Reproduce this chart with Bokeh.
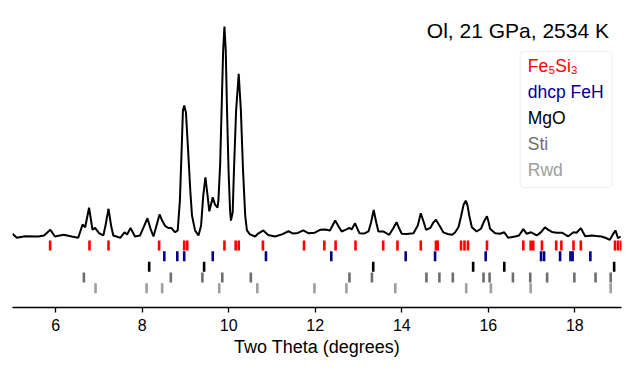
from bokeh.plotting import figure
from bokeh.models import Range1d, FixedTicker, Label, BoxAnnotation
from bokeh.embed import file_html
from bokeh.resources import INLINE

# ---- data ----
two_theta = [5.00, 5.10, 5.29, 5.60, 5.73, 5.875, 5.98, 6.18, 6.37, 6.52, 6.62, 6.68, 6.77, 6.85, 6.91,
             7.00, 7.10, 7.15, 7.22, 7.28, 7.33, 7.49, 7.59, 7.65, 7.73, 7.83, 7.95, 8.04, 8.12, 8.19,
             8.26, 8.33, 8.40, 8.46, 8.53, 8.60, 8.67, 8.76, 8.82, 8.87, 8.91, 8.94, 8.97, 9.01, 9.06,
             9.11, 9.15, 9.22, 9.30, 9.36, 9.41, 9.46, 9.51, 9.55, 9.60, 9.63, 9.68, 9.74, 9.76, 9.80,
             9.84, 9.87, 9.90, 9.93, 9.96, 9.995, 10.03, 10.05, 10.09, 10.12, 10.17, 10.23, 10.28, 10.33,
             10.38, 10.42, 10.49, 10.61, 10.68, 10.80, 10.91, 11.07, 11.23, 11.38, 11.49, 11.60, 11.72,
             11.84, 11.99, 12.11, 12.23, 12.34, 12.46, 12.54, 12.61, 12.71, 12.79, 12.84, 12.92, 13.02,
             13.13, 13.23, 13.29, 13.35, 13.41, 13.46, 13.57, 13.71, 13.80, 13.88, 13.94, 14.00, 14.12,
             14.27, 14.37, 14.44, 14.51, 14.56, 14.66, 14.73, 14.79, 14.87, 14.96, 15.06, 15.16, 15.23,
             15.31, 15.37, 15.43, 15.48, 15.52, 15.56, 15.62, 15.73, 15.83, 15.90, 15.97, 16.01, 16.04,
             16.16, 16.27, 16.37, 16.46, 16.62, 16.71, 16.81, 16.89, 16.99, 17.12, 17.22, 17.31, 17.38,
             17.47, 17.58, 17.70, 17.85, 17.97, 18.04, 18.14, 18.24, 18.39, 18.50, 18.62, 18.72, 18.81,
             18.88, 18.94, 19.00, 19.06]
intensity = [0.013, -0.006, 0.001, 0.000, 0.005, 0.032, 0.000, 0.008, 0.000, -0.006, 0.057, 0.044, 0.137, 0.032, 0.041,
             0.016, 0.005, 0.052, 0.132, 0.052, 0.005, -0.006, 0.020, 0.010, 0.041, 0.000, 0.005, 0.048, 0.087, 0.038,
             0.000, 0.052, 0.105, 0.076, 0.050, 0.041, 0.041, 0.020, 0.029, 0.171, 0.410, 0.600, 0.624, 0.590, 0.410,
             0.220, 0.100, 0.029, 0.005, 0.052, 0.195, 0.282, 0.195, 0.120, 0.162, 0.187, 0.152, 0.138, 0.171, 0.338,
             0.648, 0.886, 1.000, 0.886, 0.600, 0.314, 0.124, 0.076, 0.114, 0.314, 0.600, 0.775, 0.600, 0.314,
             0.100, 0.029, 0.010, 0.000, 0.014, 0.029, 0.007, 0.000, 0.010, 0.025, 0.014, 0.017, 0.029,
             0.016, 0.018, 0.032, 0.033, 0.029, 0.076, 0.048, 0.024, 0.033, 0.041, 0.033, 0.063, 0.016,
             0.014, 0.024, 0.067, 0.127, 0.067, 0.024, 0.024, 0.008, 0.038, 0.068, 0.038, 0.013, 0.012,
             0.016, 0.052, 0.111, 0.067, 0.032, 0.041, 0.067, 0.080, 0.052, 0.020, 0.012, 0.008, 0.019,
             0.044, 0.095, 0.152, 0.171, 0.148, 0.100, 0.044, 0.024, 0.037, 0.071, 0.097, 0.067, 0.037,
             0.016, 0.013, 0.020, -0.006, 0.000, 0.005, 0.035, 0.013, 0.020, 0.005, 0.021, 0.044, 0.033,
             0.022, 0.018, 0.018, 0.001, 0.020, 0.018, 0.040, 0.001, 0.005, 0.002, 0.000, -0.007, -0.016,
             0.010, 0.029, -0.008, 0.000]

fe5si3 = [5.87, 6.78, 7.22, 8.39, 8.97, 9.04, 9.90, 10.16, 10.23, 10.79, 11.74, 12.21, 12.47, 12.93,
          13.57, 13.90, 14.44, 14.79, 14.83, 15.37, 15.45, 15.53, 15.97, 16.81, 16.98, 17.04, 17.24,
          17.57, 17.69, 17.97, 18.14, 18.93, 19.00, 19.07]
feh = [8.51, 8.81, 8.97, 9.63, 10.86, 12.37, 14.09, 14.77, 15.94, 17.22, 17.29, 17.66, 17.90, 17.95, 18.36]
mgo = [8.16, 9.43, 13.34, 15.65, 16.37, 18.91]
sti = [6.65, 8.66, 9.39, 9.85, 10.51, 12.79, 13.31, 14.57, 14.87, 15.18, 15.89, 16.03, 16.57, 16.97,
       17.36, 17.99, 18.48, 18.83]
rwd = [6.92, 8.10, 8.46, 9.78, 10.66, 11.98, 12.72, 13.85, 15.49, 16.06, 16.98, 18.83]

phase_names = ["Fe\u2085Si\u2083", "dhcp FeH", "MgO", "Sti", "Rwd"]
phase_colors = ["#ff0000", "#00008b", "#000000", "#6e6e6e", "#9e9e9e"]
phase_ticks = [fe5si3, feh, mgo, sti, rwd]

x_ticks = [6, 8, 10, 12, 14, 16, 18]
title_text = "Ol, 21 GPa, 2534 K"
x_label = "Two Theta (degrees)"

FONT = "Liberation Sans"

p = figure(width=626, height=365, output_backend="svg", toolbar_location=None,
           x_range=Range1d(5, 19.08), y_range=Range1d(-0.338, 1.0857),
           y_axis_location=None, min_border_left=12, min_border_right=5,
           min_border_top=8, min_border_bottom=58)
p.outline_line_color = None
p.grid.visible = False
p.background_fill_color = "white"

# trace
p.line(two_theta, intensity, line_color="black", line_width=2.0)

# reflection tick rows
row0 = -0.0429
row_step = 0.0508
half = 0.0238
for i, (ticks, col) in enumerate(zip(phase_ticks, phase_colors)):
    yc = row0 - i * row_step
    p.segment(x0=ticks, y0=[yc - half] * len(ticks), x1=ticks, y1=[yc + half] * len(ticks),
              line_color=col, line_width=2.6, line_cap="butt")

# axis styling
ax = p.xaxis[0]
ax.ticker = FixedTicker(ticks=x_ticks)
ax.minor_tick_line_color = None
ax.major_tick_in = 0
ax.major_tick_out = 5
ax.major_tick_line_width = 1.3
ax.axis_line_width = 1.3
ax.major_label_text_font = FONT
ax.major_label_text_font_size = "16px"
ax.major_label_text_color = "black"
ax.major_label_standoff = 6
ax.axis_label = x_label
ax.axis_label_text_font = FONT
ax.axis_label_text_font_size = "18px"
ax.axis_label_text_font_style = "normal"
ax.axis_label_text_color = "black"
ax.axis_label_standoff = 3

# title inside plot
p.add_layout(Label(x=18.79, y=0.982, text=title_text, text_align="right",
                   text_baseline="alphabetic", text_font=FONT, text_font_size="21px",
                   text_color="black"))

# legend box
p.add_layout(BoxAnnotation(left=16.735, right=18.862, bottom=0.2333, top=0.881,
                           fill_color="white", fill_alpha=0.85, line_color="#cccccc",
                           line_width=1.2, border_radius=4, level="overlay"))
leg_y0 = 0.8128
leg_step = 0.1243
for i, (name, col) in enumerate(zip(phase_names, phase_colors)):
    p.add_layout(Label(x=16.913, y=leg_y0 - i * leg_step, text=name, text_align="left",
                       text_baseline="alphabetic", text_font=FONT, text_font_size="17.5px",
                       text_color=col, level="overlay"))

open("out.html", "w").write(file_html(p, INLINE))
